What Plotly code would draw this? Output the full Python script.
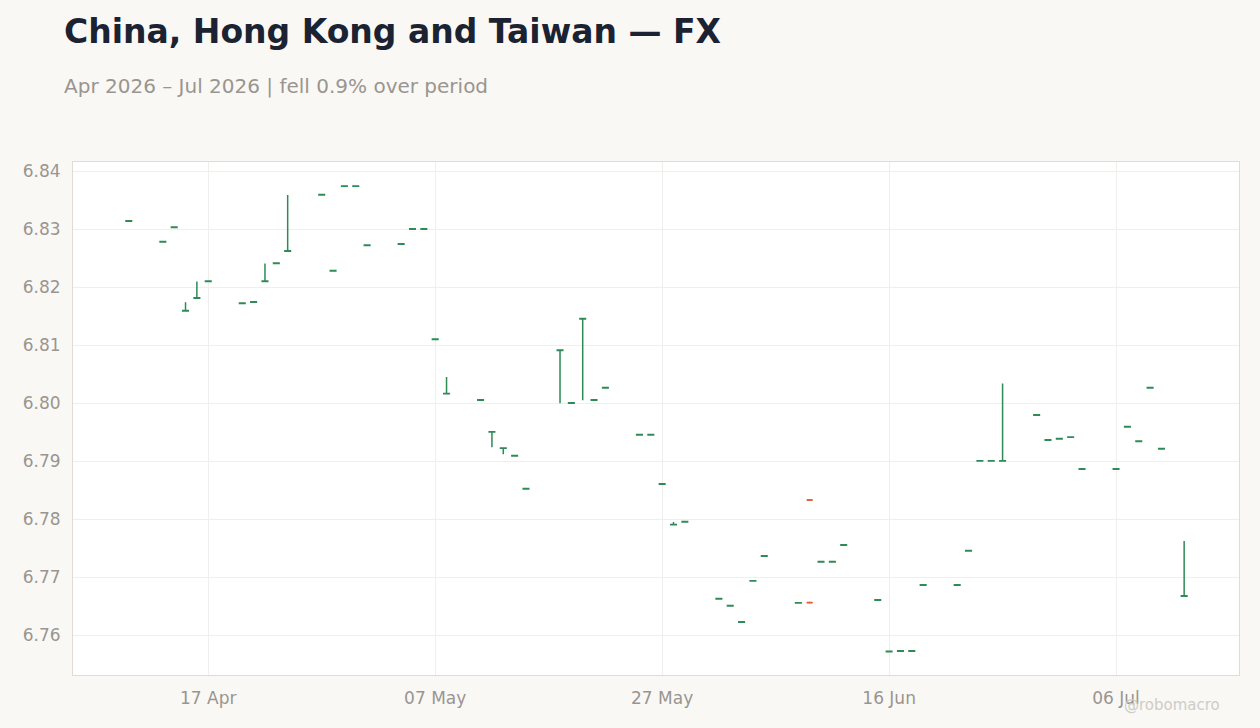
import plotly.graph_objects as go

dates = ["2026-04-10","2026-04-13","2026-04-14","2026-04-15","2026-04-16","2026-04-17",
 "2026-04-20","2026-04-21","2026-04-22","2026-04-23","2026-04-24",
 "2026-04-27","2026-04-28","2026-04-29","2026-04-30","2026-05-01",
 "2026-05-04","2026-05-05","2026-05-06","2026-05-07","2026-05-08",
 "2026-05-11","2026-05-12","2026-05-13","2026-05-14","2026-05-15",
 "2026-05-18","2026-05-19","2026-05-20","2026-05-21","2026-05-22",
 "2026-05-25","2026-05-26","2026-05-27","2026-05-28","2026-05-29",
 "2026-06-01","2026-06-02","2026-06-03","2026-06-04","2026-06-05",
 "2026-06-08","2026-06-10","2026-06-11","2026-06-12",
 "2026-06-15","2026-06-16","2026-06-17","2026-06-18","2026-06-19",
 "2026-06-22","2026-06-23","2026-06-24","2026-06-25","2026-06-26",
 "2026-06-29","2026-06-30","2026-07-01","2026-07-02","2026-07-03",
 "2026-07-06","2026-07-07","2026-07-08","2026-07-09","2026-07-10","2026-07-12"]
body = [6.8314,6.8278,6.8303,6.8159,6.8181,6.8210,
 6.8172,6.8174,6.8210,6.8241,6.8262,
 6.8359,6.8228,6.8374,6.8374,6.8272,
 6.8274,6.8300,6.8300,6.8110,6.8016,
 6.8005,6.7950,6.7922,6.7909,6.7852,
 6.8091,6.8000,6.8145,6.8005,6.8026,
 6.7945,6.7945,6.7860,6.7790,6.7795,
 6.7662,6.7650,6.7622,6.7693,6.7736,
 6.7655,6.7726,6.7726,6.7755,
 6.7660,6.7571,6.7572,6.7572,6.7686,
 6.7686,6.7745,6.7900,6.7900,6.7900,
 6.7979,6.7936,6.7938,6.7941,6.7886,
 6.7886,6.7959,6.7934,6.8026,6.7921,6.7667]
high = [6.8314,6.8278,6.8303,6.8174,6.8210,6.8210,
 6.8172,6.8174,6.8241,6.8241,6.8359,
 6.8359,6.8228,6.8374,6.8374,6.8272,
 6.8274,6.8300,6.8300,6.8110,6.8045,
 6.8005,6.7950,6.7922,6.7909,6.7852,
 6.8091,6.8000,6.8145,6.8005,6.8026,
 6.7945,6.7945,6.7860,6.7795,6.7795,
 6.7662,6.7650,6.7622,6.7693,6.7736,
 6.7655,6.7726,6.7726,6.7755,
 6.7660,6.7571,6.7572,6.7572,6.7686,
 6.7686,6.7745,6.7900,6.7900,6.8034,
 6.7979,6.7936,6.7940,6.7941,6.7886,
 6.7886,6.7959,6.7934,6.8026,6.7921,6.7762]
low = [6.8314,6.8278,6.8303,6.8159,6.8181,6.8210,
 6.8172,6.8174,6.8210,6.8241,6.8262,
 6.8359,6.8228,6.8374,6.8374,6.8272,
 6.8274,6.8300,6.8300,6.8110,6.8016,
 6.8005,6.7924,6.7912,6.7909,6.7852,
 6.8000,6.8000,6.8005,6.8005,6.8026,
 6.7945,6.7945,6.7860,6.7790,6.7795,
 6.7662,6.7650,6.7622,6.7693,6.7736,
 6.7655,6.7726,6.7726,6.7755,
 6.7660,6.7571,6.7572,6.7572,6.7686,
 6.7686,6.7745,6.7900,6.7900,6.7900,
 6.7979,6.7936,6.7938,6.7941,6.7886,
 6.7886,6.7959,6.7934,6.8026,6.7921,6.7667]
red_date = ["2026-06-09"]
red_open = [6.78335]
red_close = [6.78325]
red2_open = [6.76565]
red2_close = [6.76555]

eps = 0.00008
opens = body
closes = [b + eps for b in body]
highs = [max(h, b + eps) for h, b in zip(high, body)]

FONT = "DejaVu Sans"
fig = go.Figure()
fig.add_trace(go.Candlestick(x=dates, open=opens, high=highs, low=low, close=closes,
    increasing=dict(line=dict(color="#2e8b57", width=1.5), fillcolor="#2e8b57"),
    decreasing=dict(line=dict(color="#e0603a", width=1.5), fillcolor="#e0603a"),
    whiskerwidth=0, showlegend=False, hoverinfo="x+y"))
for o, c in [(red_open, red_close), (red2_open, red2_close)]:
    fig.add_trace(go.Candlestick(x=red_date, open=o, high=o, low=c, close=c,
        increasing=dict(line=dict(color="#2e8b57", width=1), fillcolor="#2e8b57"),
        decreasing=dict(line=dict(color="#e0603a", width=1), fillcolor="#e0603a"),
        whiskerwidth=0.2, showlegend=False))

fig.update_layout(
    width=1260, height=728, paper_bgcolor="#f9f8f5", plot_bgcolor="#ffffff",
    margin=dict(l=73, r=21, t=162, b=53),
    font=dict(family=FONT, color="#999590", size=17),
    xaxis=dict(range=["2026-04-05 02:00", "2026-07-16 20:00"], rangeslider=dict(visible=False),
               tickvals=["2026-04-17","2026-05-07","2026-05-27","2026-06-16","2026-07-06"],
               ticktext=["17 Apr","07 May","27 May","16 Jun","06 Jul"],
               showgrid=True, gridcolor="#f0efed", zeroline=False, ticklabelstandoff=8,
               showline=True, linecolor="#e0dcd5", mirror=True, ticks=""),
    yaxis=dict(range=[6.7531, 6.8416], dtick=0.01, tickformat=".2f", ticklabelstandoff=8,
               showgrid=True, gridcolor="#f0efed", zeroline=False,
               showline=True, linecolor="#e0dcd5", mirror=True),
    annotations=[
        dict(text="<b>China, Hong Kong and Taiwan — FX</b>", x=62, xref="paper", y=31,
             showarrow=False, font=dict(size=33, color="#1b2333", family=FONT)),
        dict(text="Apr 2026 – Jul 2026 | fell 0.9% over period", x=62, y=86, showarrow=False,
             font=dict(size=20, color="#999590", family=FONT)),
        dict(text="@robomacro", x=1222, y=705, showarrow=False,
             font=dict(size=15, color="#cfccc7", family=FONT)),
    ],
)
pw, ph = 1260 - 73 - 21, 728 - 162 - 53
for a, anc in zip(fig.layout.annotations, ["left", "left", "right"]):
    px, py = a.x, a.y
    a.update(xref="paper", yref="paper", x=(px - 73) / pw, y=(728 - 53 - py) / ph,
             xanchor=anc, yanchor="middle")
fig.write_html("out.html", config={"displayModeBar": False},
               post_script="document.body.style.margin='0';document.body.style.overflow='hidden';")
